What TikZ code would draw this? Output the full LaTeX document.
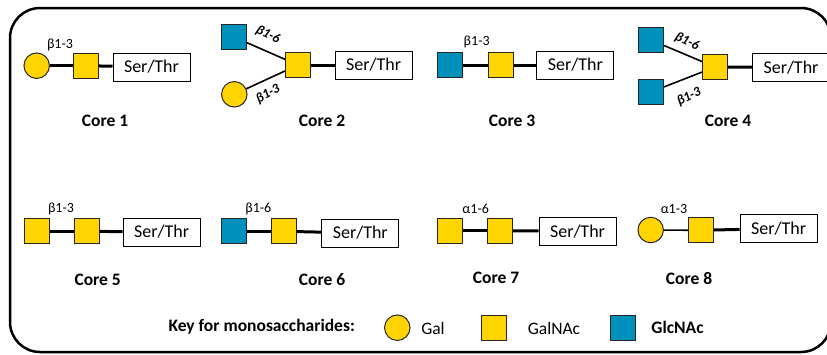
\documentclass[tikz,border=0pt]{standalone}
\usepackage{fontspec}
\setmainfont{Carlito}
\definecolor{galY}{RGB}{255,212,0}
\definecolor{glcB}{RGB}{0,144,188}
\begin{document}
\begin{tikzpicture}[x=1pt,y=-1pt,
 sq/.style={draw=black!85,line width=1pt,minimum size=25pt,inner sep=0pt},
 galnac/.style={sq,fill=galY},
 glcnac/.style={sq,fill=glcB},
 gal/.style={circle,draw=black!85,line width=1pt,fill=galY,minimum size=25.5pt,inner sep=0pt},
 ser/.style={draw,line width=1pt,minimum width=77pt,minimum height=28pt,inner sep=0pt,font=\fontsize{18}{21}\selectfont},
 link/.style={line width=3pt},
 thinlink/.style={line width=1.6pt},
 lbl/.style={font=\fontsize{14}{16}\selectfont,inner sep=0pt},
 blbl/.style={font=\fontsize{13.5}{15}\selectfont\bfseries\itshape,inner sep=0pt},
 core/.style={font=\fontsize{17.5}{20}\selectfont\bfseries,inner sep=0pt},
 keytxt/.style={font=\fontsize{17.5}{20}\selectfont,inner sep=0pt},
]
\useasboundingbox (0,0) rectangle (827,354);
\draw[line width=2.5pt,rounded corners=30pt] (10,8) rectangle (831,352);

% Core 1
\node[gal] (c1a) at (36.7,65.7) {};
\node[galnac] (c1b) at (85.5,65.7) {};
\node[ser] (c1s) at (151.5,67) {Ser/Thr};
\draw[link] (c1a) -- (c1b);
\draw[link] (c1b) -- (c1s);
\node[lbl] (c1l) at (60,45) {β1-3};
\node[core] (c1t) at (105,121) {Core 1};

% Core 2
\node[glcnac] (c2a) at (234,37) {};
\node[gal] (c2c) at (234.3,94.3) {};
\node[galnac] (c2b) at (298,65) {};
\node[ser] (c2s) at (373.7,65) {Ser/Thr};
\draw[thinlink] (c2a) -- (c2b);
\draw[thinlink] (c2c) -- (c2b);
\draw[link] (c2b) -- (c2s);
\node[blbl,rotate=-28] (c2l1) at (268,35) {β1-6};
\node[blbl,rotate=28] (c2l2) at (268,94) {β1-3};
\node[core] (c2t) at (322,121) {Core 2};

% Core 3
\node[glcnac] (c3a) at (450,65) {};
\node[galnac] (c3b) at (500.7,65) {};
\node[ser] (c3s) at (575.3,65) {Ser/Thr};
\draw[link] (c3a) -- (c3b);
\draw[link] (c3b) -- (c3s);
\node[lbl] (c3l) at (476.7,42) {β1-3};
\node[core] (c3t) at (512,121) {Core 3};

% Core 4
\node[glcnac] (c4a) at (651,40) {};
\node[glcnac] (c4c) at (651,92) {};
\node[galnac] (c4b) at (715,67) {};
\node[ser] (c4s) at (791,67.5) {Ser/Thr};
\draw[thinlink] (c4a) -- (c4b);
\draw[thinlink] (c4c) -- (c4b);
\draw[link] (c4b) -- (c4s);
\node[blbl,rotate=-26] (c4l1) at (687,42) {β1-6};
\node[blbl,rotate=26] (c4l2) at (689,97) {β1-3};
\node[core] (c4t) at (728,121) {Core 4};

% Core 5
\node[galnac] (c5a) at (36.7,231.3) {};
\node[galnac] (c5b) at (86.5,231.3) {};
\node[ser] (c5s) at (161.7,232) {Ser/Thr};
\draw[link] (c5a) -- (c5b);
\draw[link] (c5b) -- (c5s);
\node[lbl] (c5l) at (61,209.3) {β1-3};
\node[core] (c5t) at (97.7,280) {Core 5};

% Core 6
\node[glcnac] (c6a) at (234,231.3) {};
\node[galnac] (c6b) at (283.7,231.3) {};
\node[ser] (c6s) at (360.3,233) {Ser/Thr};
\draw[link] (c6a) -- (c6b);
\draw[link] (c6b) -- (c6s);
\node[lbl] (c6l) at (258.3,209.3) {β1-6};
\node[core] (c6t) at (322,280) {Core 6};

% Core 7
\node[galnac] (c7a) at (450.2,230.7) {};
\node[galnac] (c7b) at (500.2,230.7) {};
\node[ser] (c7s) at (577.5,231.3) {Ser/Thr};
\draw[link] (c7a) -- (c7b);
\draw[link] (c7b) -- (c7s);
\node[lbl] (c7l) at (475.7,209) {α1-6};
\node[core] (c7t) at (496,278.3) {Core 7};

% Core 8
\node[gal] (c8a) at (650.7,230) {};
\node[galnac] (c8b) at (700.8,230.3) {};
\node[ser] (c8s) at (778.7,228.5) {Ser/Thr};
\draw[thinlink] (c8a) -- (c8b);
\draw[link] (c8b) -- (c8s);
\node[lbl] (c8l) at (674,209) {α1-3};
\node[core] (c8t) at (689,278.3) {Core 8};

% Key
\node[core] (keyt) at (261.7,327) {Key for monosaccharides:};
\node[gal] (kgal) at (397.3,327.7) {};
\node[keytxt] (kgalt) at (433,328.3) {Gal};
\node[galnac] (kgalnac) at (493.8,328) {};
\node[keytxt] (kgalnact) at (554,328.5) {GalNAc};
\node[glcnac] (kglcnac) at (623.3,327.7) {};
\node[core] (kglcnact) at (677.5,327) {GlcNAc};
\end{tikzpicture}
\end{document}
